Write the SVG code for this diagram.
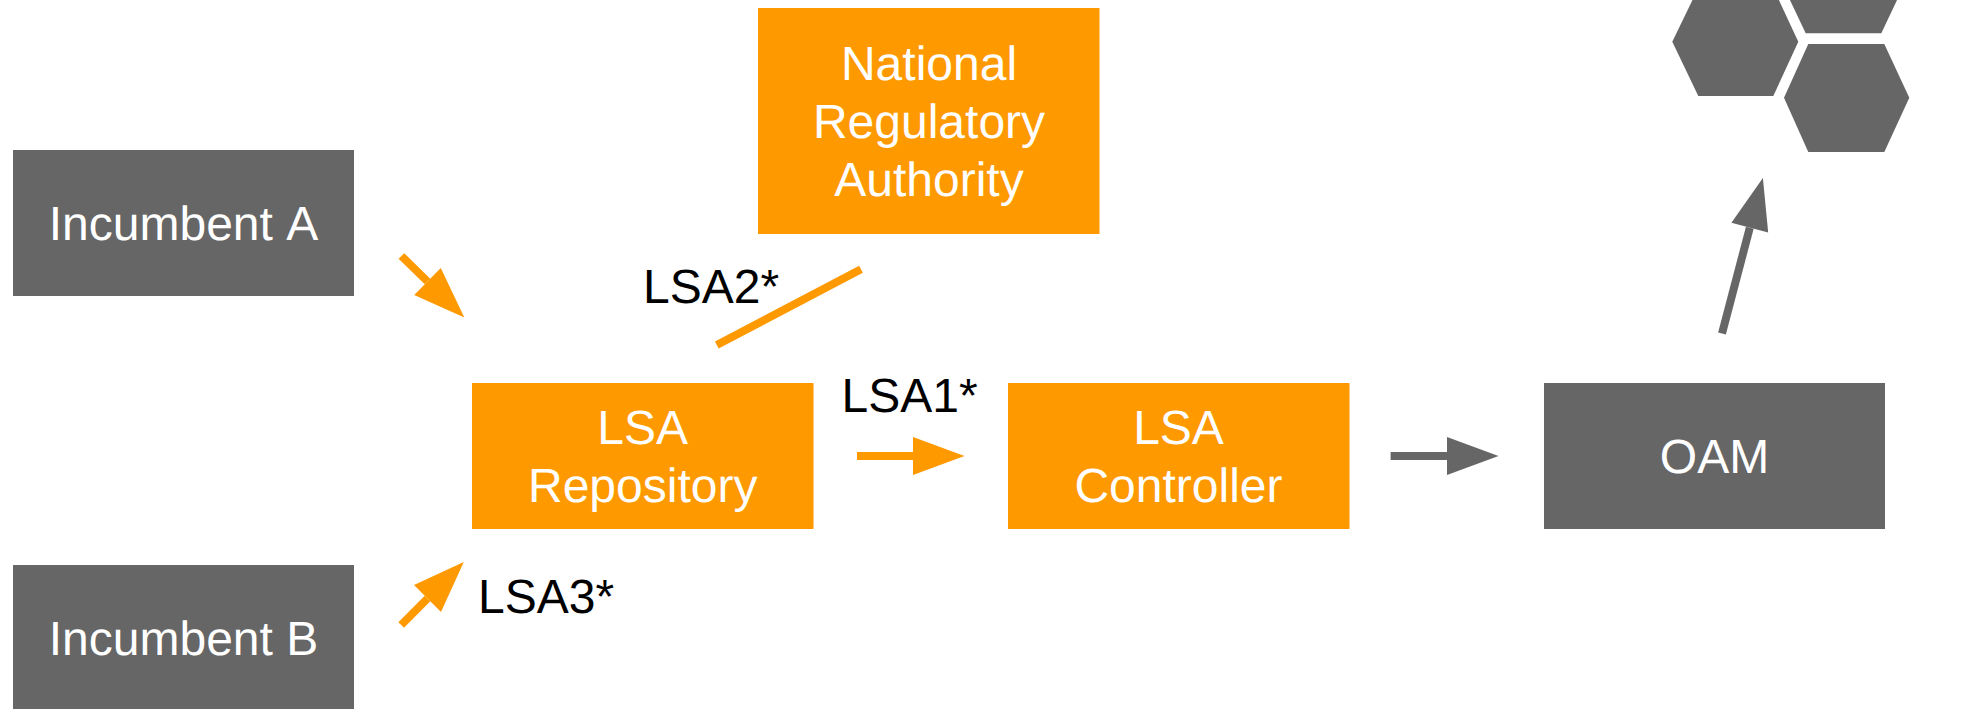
<svg xmlns="http://www.w3.org/2000/svg" width="1968" height="709" viewBox="0 0 1968 709">
<style>
text{font-family:"Liberation Sans",Arial,sans-serif;font-size:48px;text-rendering:geometricPrecision}
.n{fill:#fff;text-anchor:middle}
.l{fill:#000}
.o{fill:#ff9900}
.g{fill:#666666}
.nk{font-kerning:none}
.co{stroke:#ff9900;stroke-width:8;fill:none}
.cg{stroke:#666666;stroke-width:8;fill:none}
</style>
<defs>
<marker id="ho" markerUnits="userSpaceOnUse" markerWidth="52" markerHeight="38" refX="0" refY="19" orient="auto" overflow="visible"><path d="M0 0L51.5 19L0 38Z" fill="#ff9900"/></marker>
<marker id="hg" markerUnits="userSpaceOnUse" markerWidth="52" markerHeight="38" refX="0" refY="19" orient="auto" overflow="visible"><path d="M0 0L51.5 19L0 38Z" fill="#666666"/></marker>
</defs>
<rect width="1968" height="709" fill="#fff"/>
<g id="connectors">
<line class="co" x1="401.4" y1="256" x2="427.5" y2="281.5" marker-end="url(#ho)"/>
<line class="co" x1="401.2" y1="625" x2="427.5" y2="598.5" marker-end="url(#ho)"/>
<line class="co" x1="861" y1="269.3" x2="716.8" y2="345"/>
<line class="co" x1="857" y1="456" x2="913" y2="456" marker-end="url(#ho)"/>
<line class="cg" x1="1390.6" y1="456" x2="1447" y2="456" marker-end="url(#hg)"/>
<line class="cg" x1="1722" y1="333.500" x2="1749.8" y2="227.7" marker-end="url(#hg)"/>
</g>
<g id="incumbent-a"><rect class="g" x="13" y="150" width="341" height="146"/><text class="n nk" x="183.5" y="240">Incumbent A</text></g>
<g id="incumbent-b"><rect class="g" x="13" y="565" width="341" height="146"/><text class="n" x="183.5" y="655">Incumbent B</text></g>
<g id="national-regulatory-authority"><rect class="o" x="758" y="8" width="341.500" height="226"/><text class="n" x="929" y="80">National</text><text class="n" x="929" y="138">Regulatory</text><text class="n" x="929" y="196">Authority</text></g>
<g id="lsa-repository"><rect class="o" x="472" y="383" width="341.500" height="146"/><text class="n" x="642.700" y="444">LSA</text><text class="n" x="642.700" y="502">Repository</text></g>
<g id="lsa-controller"><rect class="o" x="1008" y="383" width="341.500" height="146"/><text class="n" x="1178.500" y="444">LSA</text><text class="n" x="1178.500" y="502">Controller</text></g>
<g id="oam"><rect class="g" x="1544" y="383" width="341" height="146"/><text class="n" x="1714.500" y="473">OAM</text></g>
<g id="cluster">
<polygon class="g" points="1698.300,-12 1773.300,-12 1798.300,41.700 1773.300,96 1698.300,96 1672.300,41.700"/>
<polygon class="g" points="1805.700,-75 1881.300,-75 1907,-21 1881.300,33.300 1805.700,33.300 1780,-21"/>
<polygon class="g" points="1808.300,44 1884.300,44 1909.300,97.700 1884.300,152 1808.300,152 1784,97.700"/>
</g>
<g id="labels">
<text class="l" x="643" y="302.700">LSA2*</text>
<text class="l" x="841.500" y="411.700">LSA1*</text>
<text class="l" x="478" y="612.700">LSA3*</text>
</g>
</svg>
